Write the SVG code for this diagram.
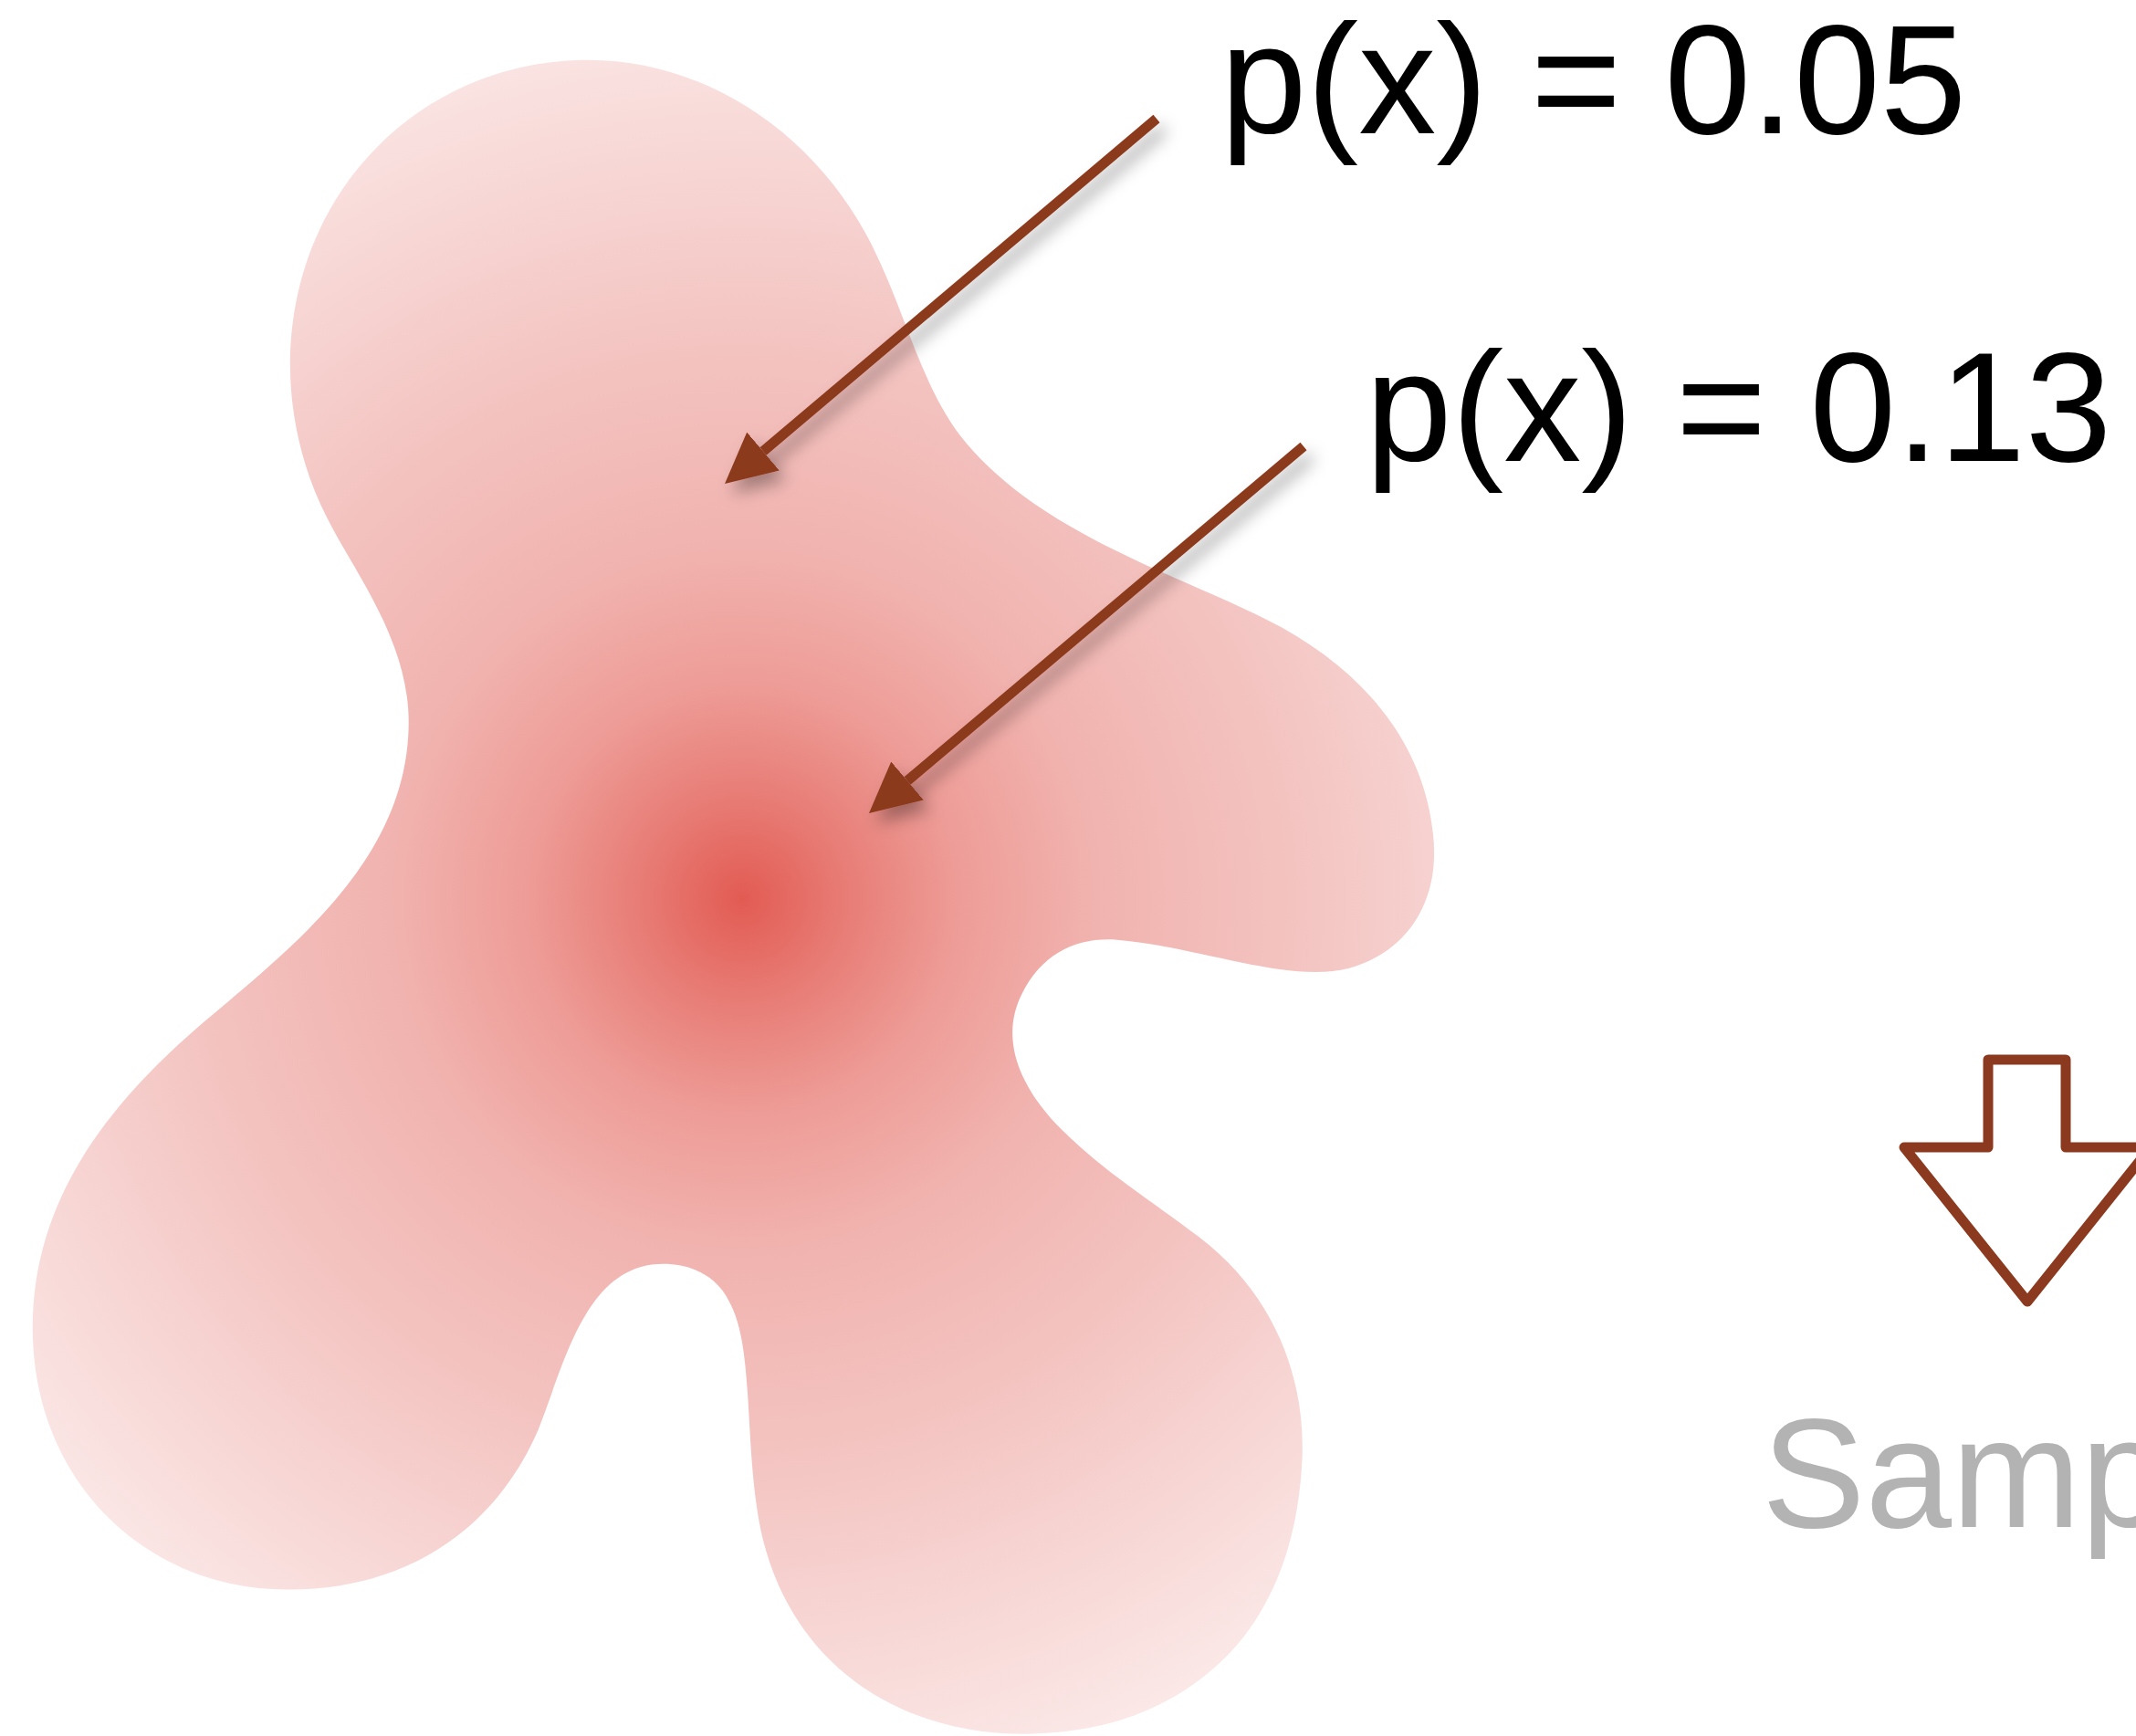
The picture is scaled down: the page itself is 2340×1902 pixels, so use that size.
<svg xmlns="http://www.w3.org/2000/svg" width="2340" height="1902" viewBox="0 0 2340 1902">
  <style>
    .lbl { font-family: "Liberation Sans", Arial, sans-serif; font-size: 170px; fill: #000000; }
    .grey { fill: #B3B3B3; }
    .conn { stroke: #8B3A1F; stroke-width: 11; fill: none; marker-end: url(#head); }
  </style>
  <defs>
    <radialGradient id="blobGrad" gradientUnits="userSpaceOnUse" cx="545" cy="660" r="720">
      <stop offset="0" stop-color="#E25B53"/>
      <stop offset="0.1" stop-color="#E77B74"/>
      <stop offset="0.22" stop-color="#EE9C97"/>
      <stop offset="0.36" stop-color="#F1B3AF"/>
      <stop offset="0.55" stop-color="#F3C2BF"/>
      <stop offset="0.75" stop-color="#F7D6D4"/>
      <stop offset="1" stop-color="#FCF0EF"/>
    </radialGradient>
    <marker id="head" viewBox="0 0 55 55" refX="0" refY="27.5" markerWidth="55" markerHeight="55" markerUnits="userSpaceOnUse" orient="auto">
      <path d="M0,0 L55,27.5 L0,55 Z" fill="#8B3A1F"/>
    </marker>
    <filter id="shadow" x="-20%" y="-20%" width="140%" height="140%">
      <feDropShadow dx="8" dy="11" stdDeviation="9" flood-color="#000000" flood-opacity="0.33"/>
    </filter>
  </defs>

  <rect width="2340" height="1902" fill="#FFFFFF"/>

  <g id="blob" transform="scale(1.4923)">
    <path fill="url(#blobGrad)" d="M432,44
      C520,44 600,100 640,180
      C665,230 675,280 705,320
      C760,390 860,420 930,455
      C1000,490 1045,545 1052,612
      C1058,665 1030,700 990,711
      C945,722 880,695 820,690
      C790,688 765,700 750,730
      C735,760 745,795 780,830
      C810,860 850,885 880,908
      C935,950 958,1010 956,1070
      C952,1160 915,1220 850,1252
      C810,1272 760,1276 720,1271
      C640,1260 580,1210 560,1130
      C545,1065 555,990 535,955
      C525,935 505,928 487,928
      C430,928 415,1000 395,1050
      C360,1130 290,1168 210,1167
      C110,1167 24,1090 24,975
      C24,880 80,810 150,750
      C215,695 300,630 300,530
      C300,470 260,420 240,380
      C222,345 213,305 213,268
      C213,140 310,44 432,44 Z"/>
  </g>

  <g id="connectors" filter="url(#shadow)">
    <line class="conn" x1="1267" y1="130" x2="836" y2="494.5"/>
    <line class="conn" x1="1428" y1="489" x2="994" y2="855.5"/>
  </g>

  <g id="label-005">
    <text class="lbl" x="1337" y="146">p(x) = 0.05</text>
  </g>
  <g id="label-013">
    <text class="lbl" x="1496" y="505">p(x) = 0.13</text>
  </g>

  <g id="down-arrow">
    <path d="M2178,1161 L2263,1161 L2263,1257 L2356,1257 L2221,1426 L2086,1257 L2178,1257 Z" fill="#FFFFFF" stroke="#8B3A1F" stroke-width="11" stroke-linejoin="round"/>
  </g>

  <g id="label-samp">
    <text class="lbl grey" x="1930" y="1673">Samp</text>
  </g>
</svg>
